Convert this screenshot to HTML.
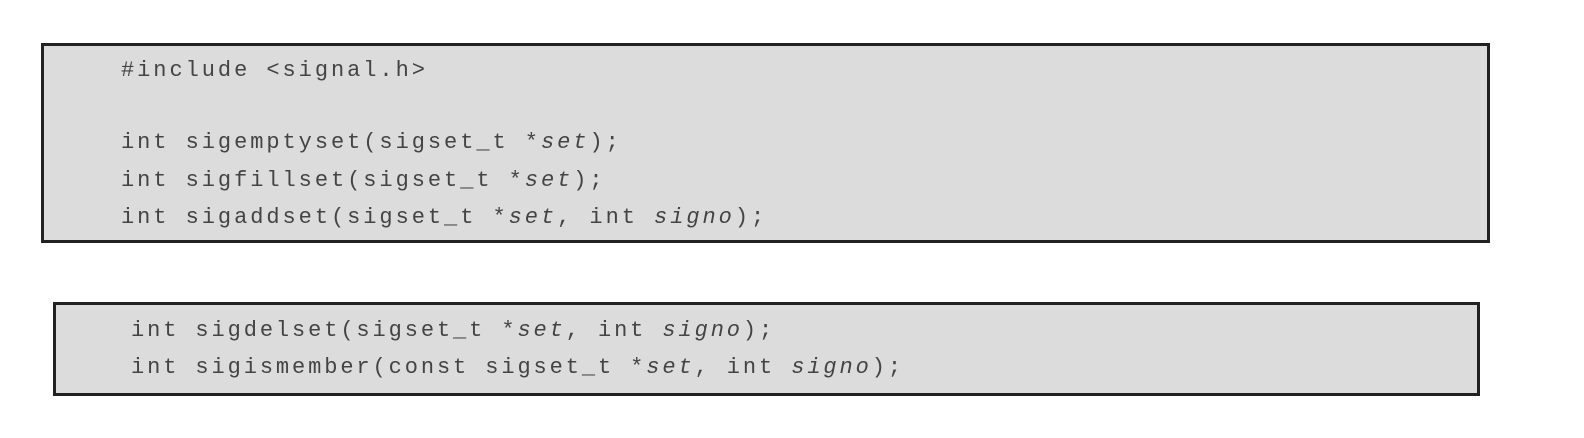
<!DOCTYPE html>
<html><head><style>
body{margin:0;width:1584px;height:438px;background:#fff;position:relative;overflow:hidden}
.box{position:absolute;background:#dcdcdc;border:3px solid #222;box-sizing:border-box}
.t{position:absolute;font-family:"Liberation Mono",monospace;font-size:22px;color:#444;white-space:pre;line-height:1}
i{font-style:italic}
</style></head><body>
<div class="box" style="left:41px;top:43px;width:1449px;height:200px"></div>
<div class="box" style="left:53px;top:302px;width:1427px;height:94px"></div>
<div class="t" style="left:121px;top:60px;letter-spacing:2.95px">#include &lt;signal.h&gt;</div>
<div class="t" style="left:121px;top:132px;letter-spacing:2.95px">int sigemptyset(sigset_t *<i>set</i>);</div>
<div class="t" style="left:121px;top:170px;letter-spacing:2.95px">int sigfillset(sigset_t *<i>set</i>);</div>
<div class="t" style="left:121px;top:207px;letter-spacing:2.95px">int sigaddset(sigset_t *<i>set</i>, int <i>signo</i>);</div>
<div class="t" style="left:131px;top:320px;letter-spacing:2.9px">int sigdelset(sigset_t *<i>set</i>, int <i>signo</i>);</div>
<div class="t" style="left:131px;top:357px;letter-spacing:2.9px">int sigismember(const sigset_t *<i>set</i>, int <i>signo</i>);</div>
</body></html>
